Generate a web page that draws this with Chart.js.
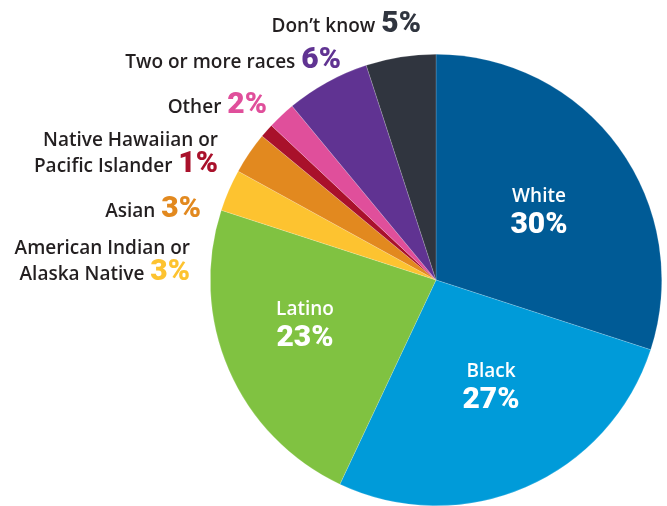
<!DOCTYPE html>
<html>
<head>
<meta charset="utf-8">
<script src="https://cdn.jsdelivr.net/npm/chart.js@4.4.1/dist/chart.umd.min.js"></script>
<style>
  html, body { margin: 0; padding: 0; background: #fff; }
  #chart { display: block; }
</style>
</head>
<body>
<canvas id="chart" width="667" height="506"></canvas>
<script>
// data
var categories = ['White', 'Black', 'Latino', 'American Indian or Alaska Native', 'Asian',
                  'Native Hawaiian or Pacific Islander', 'Other', 'Two or more races', 'Don\u2019t know'];
var shares = [30, 27, 23, 3, 3, 1, 2, 6, 5];
var sliceColors = ['#005b96', '#009bd9', '#80c241', '#fdc330', '#e2891f', '#a9112b', '#e04f9b', '#603392', '#30353f'];
var pctColors = ['#ffffff', '#ffffff', '#ffffff', '#fdc330', '#e2891f', '#a9112b', '#e04f9b', '#603392', '#30353f'];

// label lines for the outside labels (last line gets the percentage)
var outsideLines = {
    3: ['American Indian or', 'Alaska Native'],
    4: ['Asian'],
    5: ['Native Hawaiian or', 'Pacific Islander'],
    6: ['Other'],
    7: ['Two or more races'],
    8: ['Don\u2019t know']
};
// right edge and last baseline of each outside label
var outsidePos = {
    3: [190, 280], 4: [201, 217], 5: [218, 172], 6: [267, 113], 7: [341, 68], 8: [421, 32]
};
// inside labels: offset from the pie centre
var insideOffset = { 0: [103, -70], 1: [55, 105], 2: [-131, 43] };

var nameFont = '600 19px "Open Sans", Roboto, sans-serif';
var pctFont = '900 30px Roboto, "Liberation Sans", sans-serif';

var labelPlugin = {
    id: 'sliceLabels',
    afterDatasetsDraw: function(chart) {
        var ctx = chart.ctx;
        var meta = chart.getDatasetMeta(0);
        ctx.save();
        ctx.textBaseline = 'alphabetic';
        meta.data.forEach(function(arc, i) {
            var pct = shares[i] + '%';
            if (i < 3) {
                var x = arc.x + insideOffset[i][0];
                var y = arc.y + insideOffset[i][1];
                ctx.textAlign = 'center';
                ctx.fillStyle = '#ffffff';
                ctx.font = nameFont;
                ctx.fillText(categories[i], x, y - 8);
                ctx.font = pctFont;
                ctx.fillText(pct, x, y + 23);
            } else {
                var lines = outsideLines[i];
                var right = outsidePos[i][0];
                var base = outsidePos[i][1];
                ctx.textAlign = 'right';
                ctx.font = pctFont;
                var pw = ctx.measureText(pct).width;
                ctx.fillStyle = pctColors[i];
                ctx.fillText(pct, right, base);
                ctx.font = nameFont;
                ctx.fillStyle = '#231f20';
                ctx.fillText(lines[lines.length - 1], right - pw - 6, base);
                if (lines.length > 1) {
                    ctx.fillText(lines[0], right, base - 26);
                }
            }
        });
        ctx.restore();
    }
};

new Chart(document.getElementById('chart'), {
    type: 'pie',
    data: {
        labels: categories,
        datasets: [{
            data: shares,
            backgroundColor: sliceColors,
            borderColor: 'rgba(255,255,255,0.35)',
            borderWidth: 0.5
        }]
    },
    options: {
        responsive: false,
        animation: false,
        devicePixelRatio: 1,
        layout: { padding: { left: 210, right: 5, top: 54, bottom: 0 } },
        plugins: {
            legend: { display: false },
            tooltip: { enabled: false }
        }
    },
    plugins: [labelPlugin]
});
</script>
</body>
</html>
